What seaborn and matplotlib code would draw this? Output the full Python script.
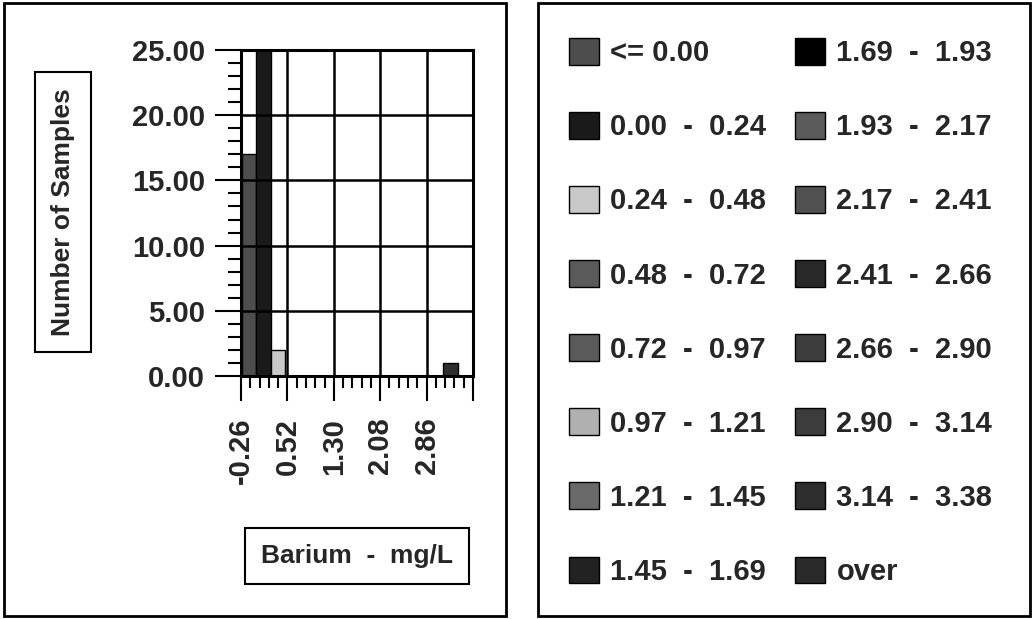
import numpy as np
import pandas as pd
import matplotlib
matplotlib.use("Agg")
import matplotlib.pyplot as plt
import seaborn as sns
from matplotlib.patches import Patch, Rectangle
from matplotlib.ticker import FormatStrFormatter, MultipleLocator, AutoMinorLocator

# bins of barium concentration (mg/L) and sample counts
bin_edges = [-0.24, 0.00, 0.24, 0.48, 0.72, 0.97, 1.21, 1.45, 1.69,
             1.93, 2.17, 2.41, 2.66, 2.90, 3.14, 3.38, 3.62]
counts = [17, 25, 2, 0, 0, 0, 0, 0, 0, 0, 0, 0, 0, 0, 1, 0]
bin_labels = ["<= 0.00", "0.00  -  0.24", "0.24  -  0.48", "0.48  -  0.72",
              "0.72  -  0.97", "0.97  -  1.21", "1.21  -  1.45", "1.45  -  1.69",
              "1.69  -  1.93", "1.93  -  2.17", "2.17  -  2.41", "2.41  -  2.66",
              "2.66  -  2.90", "2.90  -  3.14", "3.14  -  3.38", "over"]
fills = ["#4d4d4d", "#1a1a1a", "#c8c8c8", "#5a5a5a", "#5a5a5a", "#b0b0b0",
         "#6a6a6a", "#222222", "#000000", "#5a5a5a", "#505050", "#282828",
         "#3c3c3c", "#3c3c3c", "#2e2e2e", "#2a2a2a"]
x_ticks = [-0.26, 0.52, 1.30, 2.08, 2.86, 3.64]
x_tick_labels = ["-0.26", "0.52", "1.30", "2.08", "2.86", ""]
y_ticks = [0, 5, 10, 15, 20, 25]

sns.set_style("ticks")
plt.rcParams["font.family"] = ["Liberation Sans", "DejaVu Sans"]
plt.rcParams["font.weight"] = "bold"
FS = 21
LABEL_FS = 19

edges = np.array(bin_edges)
df = pd.DataFrame({"center": (edges[:-1] + edges[1:]) / 2, "count": counts})

fig = plt.figure(figsize=(10.33, 6.19), dpi=100)
ax = fig.add_axes([241 / 1033, 1 - 376 / 619, 232 / 1033, 326 / 619])

sns.histplot(data=df, x="center", weights="count", bins=bin_edges,
             edgecolor="black", linewidth=1, alpha=1, ax=ax)
for patch, c in zip(ax.patches, fills):
    patch.set_facecolor(c)

ax.set_xlim(x_ticks[0], x_ticks[-1])
ax.set_ylim(0, 25)
ax.set_xticks(x_ticks)
ax.set_xticklabels(x_tick_labels, rotation=90, fontsize=FS, fontweight="bold")
ax.xaxis.set_minor_locator(AutoMinorLocator(5))
ax.set_yticks(y_ticks)
ax.yaxis.set_major_formatter(FormatStrFormatter("%.2f"))
ax.yaxis.set_minor_locator(MultipleLocator(1))
for lab in ax.get_yticklabels():
    lab.set_fontsize(FS)
    lab.set_fontweight("bold")

ax.tick_params(axis="x", which="major", length=18, width=1.5, pad=12, color="black")
ax.tick_params(axis="x", which="minor", length=8.5, width=1.5, color="black")
ax.tick_params(axis="y", which="major", length=19, width=1.5, pad=7, color="black")
ax.tick_params(axis="y", which="minor", length=9.5, width=1.5, color="black")
ax.grid(True, which="major", color="black", linewidth=1.8)
ax.set_axisbelow(False)
for s in ax.spines.values():
    s.set_visible(True)
    s.set_linewidth(2.2)
    s.set_color("black")
ax.set_xlabel("")
ax.set_ylabel("")

box = dict(boxstyle="square,pad=0.6", facecolor="white", edgecolor="black", linewidth=1.5)
fig.text(63 / 1033, 1 - 212 / 619, "Number of Samples", rotation=90, fontsize=LABEL_FS,
         fontweight="bold", ha="center", va="center", bbox=box)
fig.text(357 / 1033, 1 - 556 / 619, "Barium  -  mg/L", fontsize=LABEL_FS,
         fontweight="bold", ha="center", va="center", bbox=box)

# panel frames
fig.add_artist(Rectangle((4 / 1033, 1 - 616 / 619), 502 / 1033, 613 / 619,
                         transform=fig.transFigure, fill=False, edgecolor="black", linewidth=2))
fig.add_artist(Rectangle((538 / 1033, 1 - 616 / 619), 492 / 1033, 613 / 619,
                         transform=fig.transFigure, fill=False, edgecolor="black", linewidth=2))

handles = [Patch(facecolor=c, edgecolor="black", linewidth=1) for c in fills]
fig.legend(handles, bin_labels, ncol=2, loc="upper left",
           bbox_to_anchor=(569 / 1033, 1 - 38 / 619), frameon=False,
           prop={"size": FS, "weight": "bold"}, handlelength=1.03, handleheight=1.03,
           handletextpad=0.38, labelspacing=1.535, columnspacing=1.0,
           borderpad=0, borderaxespad=0)

fig.savefig("out.png", dpi=100)
